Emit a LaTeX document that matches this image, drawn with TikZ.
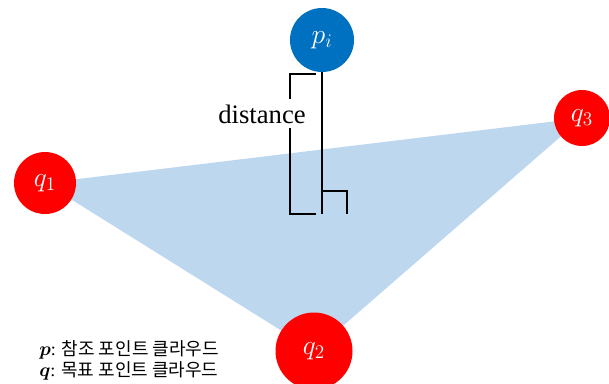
\documentclass[tikz,border=0pt]{standalone}
\usepackage{amsmath,bm}
\usepackage{fontspec}
\setmainfont{Liberation Serif}
\newfontfamily\kofont{Noto Sans CJK KR}
\usetikzlibrary{positioning, calc}
\definecolor{trifill}{RGB}{189,215,238}
\definecolor{refblue}{RGB}{0,112,192}
\definecolor{tgtred}{RGB}{255,0,0}
\tikzset{
  ptbox/.style={circle, inner sep=0pt, text=white, font=\fontsize{20}{24}\selectfont},
  refpt/.style={ptbox, fill=refblue},
  tgtpt/.style={ptbox, fill=tgtred},
  perpline/.style={line width=2.2pt, color=black},
  bracketline/.style={line width=1.5pt, color=black}
}

\begin{document}
\begin{tikzpicture}[x=0.75pt, y=-0.75pt]
  \useasboundingbox (0,0) rectangle (609,383);

  % plane through the three target points
  \coordinate (c1) at (45,183);
  \coordinate (c2) at (314,351);
  \coordinate (c3) at (582,118);
  \fill[trifill] (c1) -- (c3) -- (c2) -- cycle;

  % target points
  \node[tgtpt, minimum size=62*0.75pt] (q1) at (c1) {$q_1$};
  \node[tgtpt, minimum size=77*0.75pt] (q2) at (c2) {$q_2$};
  \node[tgtpt, minimum size=56*0.75pt] (q3) at (c3) {$q_3$};

  % reference point and its distance to the plane
  \node[refpt, minimum size=64*0.75pt] (pi) at (322,40) {$p_i$};
  \coordinate (foot) at (322,214);
  \draw[perpline] (pi.south) -- (foot);
  \draw[line width=1.5pt] ($(foot)+(0,-23)$) -| ($(foot)+(25,0)$);

  \node[font=\fontsize{20}{24}\selectfont] (dist) at (262,114) {distance};
  \draw[bracketline] (316,74) -| (290,99);
  \draw[bracketline] (316,214) -| (290,128);

  % legend
  \node[anchor=north west, align=left, inner sep=0pt, font=\fontsize{13.5}{13.5}\selectfont]
    (legend) at (39,340)
    {$\bm{p}$: {\kofont 참조 포인트 클라우드}\\[1pt] $\bm{q}$: {\kofont 목표 포인트 클라우드}};
\end{tikzpicture}
\end{document}
